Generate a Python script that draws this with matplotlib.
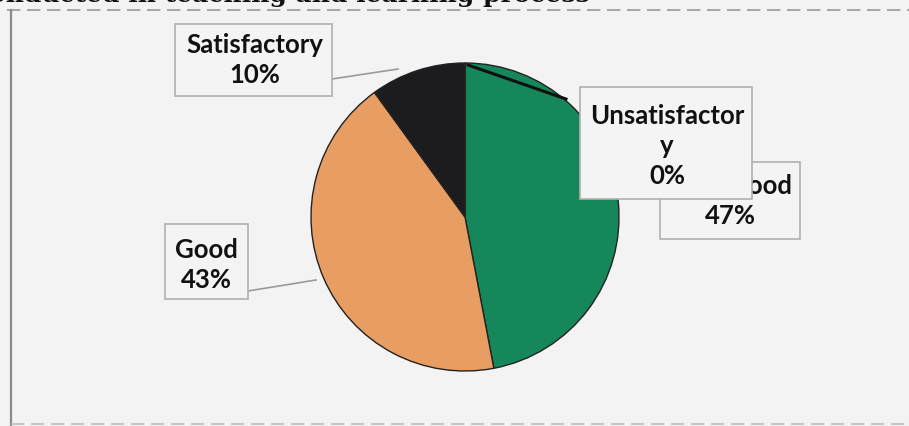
import matplotlib
matplotlib.use("Agg")
import matplotlib.pyplot as plt
from matplotlib.patches import Rectangle

categories = ["Very Good", "Good", "Satisfactory", "Unsatisfactory"]
values = [47, 43, 10, 0]
colors = ["#16875a", "#e89d62", "#1c1c1e", "#222222"]
label_texts = ["Very Good\n47%", "Good\n43%", "Satisfactory\n10%", "Unsatisfactor\ny\n0%"]
title_text = "conducted in teaching and learning process"

W, H = 909, 427
fig = plt.figure(figsize=(W / 100, H / 100), dpi=100)
fig.patch.set_facecolor("#f3f3f3")
ax = fig.add_axes([0, 0, 1, 1])
ax.set_xlim(0, W)
ax.set_ylim(0, H)
ax.set_aspect("equal")
ax.axis("off")

def Y(y):
    return H - y

# chart area borders
ax.plot([7, W], [Y(11), Y(11)], color="#9a9a9a", lw=1.2, ls=(0, (8, 4)), zorder=1)
ax.plot([11, 11], [Y(11), Y(427)], color="#8a8a8a", lw=1.6, zorder=1)
ax.plot([11, W], [Y(425), Y(425)], color="#bdbdbd", lw=1.2, ls=(0, (8, 4)), zorder=1)

# clipped title (cut off at the top edge, as in the reference)
ax.text(590, Y(2), title_text, ha="right", va="baseline", fontsize=18,
        fontweight="bold", family="DejaVu Serif", color="#111111", zorder=5)

# pie
wedges, _ = ax.pie(values, colors=colors, startangle=90, counterclock=False,
                   center=(465, Y(218)), radius=154, frame=True,
                   wedgeprops=dict(edgecolor="#222222", linewidth=1.0))
ax.set_xlim(0, W)
ax.set_ylim(0, H)
ax.axis("off")

fs = 18.5
fam = ["Lato", "DejaVu Sans"]
fw = "bold"
ls_ = 1.3

def box(x0, y0, x1, y1, z=4):
    r = Rectangle((x0, Y(y1)), x1 - x0, y1 - y0, facecolor="#f4f4f4",
                  edgecolor="#b0b0b0", lw=1.2, zorder=z)
    ax.add_patch(r)

# leader lines
ax.plot([332, 398], [Y(80), Y(70)], color="#9a9a9a", lw=1.2, zorder=3)
ax.plot([248, 316], [Y(292), Y(281)], color="#9a9a9a", lw=1.2, zorder=3)
ax.plot([468, 566], [Y(66), Y(100)], color="#111111", lw=2.2, zorder=3)

# Very Good label (behind Unsatisfactory box)
box(660, 163, 800, 240, z=4)
ax.text(730, Y(201), label_texts[0], ha="center", va="center", fontsize=fs,
        family=fam, fontweight=fw, color="#111111", linespacing=ls_, zorder=5)

# Unsatisfactory label
box(580, 88, 752, 200, z=6)
ax.text(667, Y(146), label_texts[3], ha="center", va="center", fontsize=fs,
        family=fam, fontweight=fw, color="#111111", linespacing=ls_, zorder=7)

# Satisfactory label
box(175, 25, 332, 97, z=4)
ax.text(255, Y(60), label_texts[2], ha="center", va="center", fontsize=fs,
        family=fam, fontweight=fw, color="#111111", linespacing=ls_, zorder=5)

# Good label
box(165, 225, 248, 300, z=4)
ax.text(206, Y(265), label_texts[1], ha="center", va="center", fontsize=fs,
        family=fam, fontweight=fw, color="#111111", linespacing=ls_, zorder=5)

fig.savefig("out.png", dpi=100, facecolor=fig.get_facecolor())
